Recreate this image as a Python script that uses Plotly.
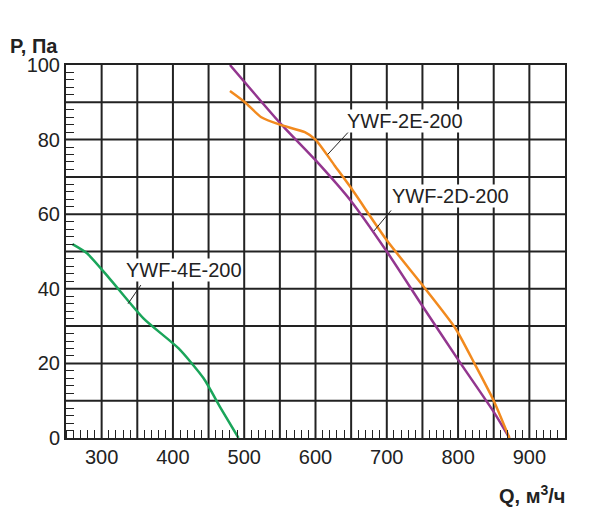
import plotly.graph_objects as go

q_4e = [259, 279, 310, 359, 408, 443, 467, 492]
p_4e = [52, 49.6, 43, 32, 24, 16, 8, 0]
q_2d = [480, 550, 600, 650, 700, 750, 800, 850, 872]
p_2d = [100, 84.5, 74.5, 63.5, 50, 35.4, 21, 7, 0]
q_2e = [480, 501, 524, 550, 585, 600, 627, 650, 700, 750, 796, 824, 850, 872]
p_2e = [93, 90, 86, 84, 82, 80, 73, 67, 53, 41, 29.5, 19.6, 10, 0]

fig = go.Figure()
for q, p, c in [(q_4e, p_4e, "#1aa55a"), (q_2d, p_2d, "#93368f"), (q_2e, p_2e, "#f28a1e")]:
    fig.add_trace(go.Scatter(x=q, y=p, mode="lines", line=dict(color=c, width=2.5, shape="spline", smoothing=0.6),
                             showlegend=False))

font = dict(family="Liberation Sans, Arial", size=20, color="#222")
for txt, x, y, lx0, ly0, lx1, ly1 in [("YWF-2E-200", 725, 85, 646, 82, 617, 76),
                                      ("YWF-2D-200", 790, 65, 706, 61, 682, 55.5),
                                      ("YWF-4E-200", 415, 45, 355, 41, 337, 36)]:
    fig.add_annotation(x=x, y=y, text=txt, showarrow=False, font=font, bgcolor="white", borderpad=0)
    fig.add_shape(type="line", x0=lx0, y0=ly0, x1=lx1, y1=ly1, line=dict(color="#222", width=1))

fig.add_annotation(x=0, y=1, xref="paper", yref="paper", xanchor="left", yanchor="bottom", xshift=-58, yshift=6,
                   text="<b>P, Па</b>", showarrow=False, font=font)
fig.add_annotation(x=1, y=0, xref="paper", yref="paper", xanchor="right", yanchor="top", yshift=-42, xshift=2,
                   text="<b>Q, м<sup>3</sup>/ч</b>", showarrow=False, font=font)

fig.update_xaxes(range=[250, 950], tick0=300, dtick=100, showgrid=False, ticks="", 
                 showline=True, linecolor="#222", linewidth=2, mirror=True, tickfont=font,
                 minor=dict(dtick=10, ticks="inside", ticklen=8, tickcolor="#222", showgrid=False))
fig.update_yaxes(range=[0, 100], dtick=20, showgrid=False, showline=True, linecolor="#222",
                 linewidth=2, mirror=True, tickfont=font, zeroline=False,
                 minor=dict(dtick=2, ticks="inside", ticklen=8, tickcolor="#222", showgrid=False))
for v in range(300, 950, 50):
    fig.add_shape(type="line", x0=v, x1=v, y0=0, y1=100, layer="below", line=dict(color="#222", width=2))
for v in range(10, 100, 10):
    fig.add_shape(type="line", x0=250, x1=950, y0=v, y1=v, layer="below", line=dict(color="#222", width=2))

fig.update_layout(width=593, height=509, margin=dict(l=58, r=36, t=57, b=79),
                  plot_bgcolor="white", paper_bgcolor="white")
fig.write_html("out.html")
